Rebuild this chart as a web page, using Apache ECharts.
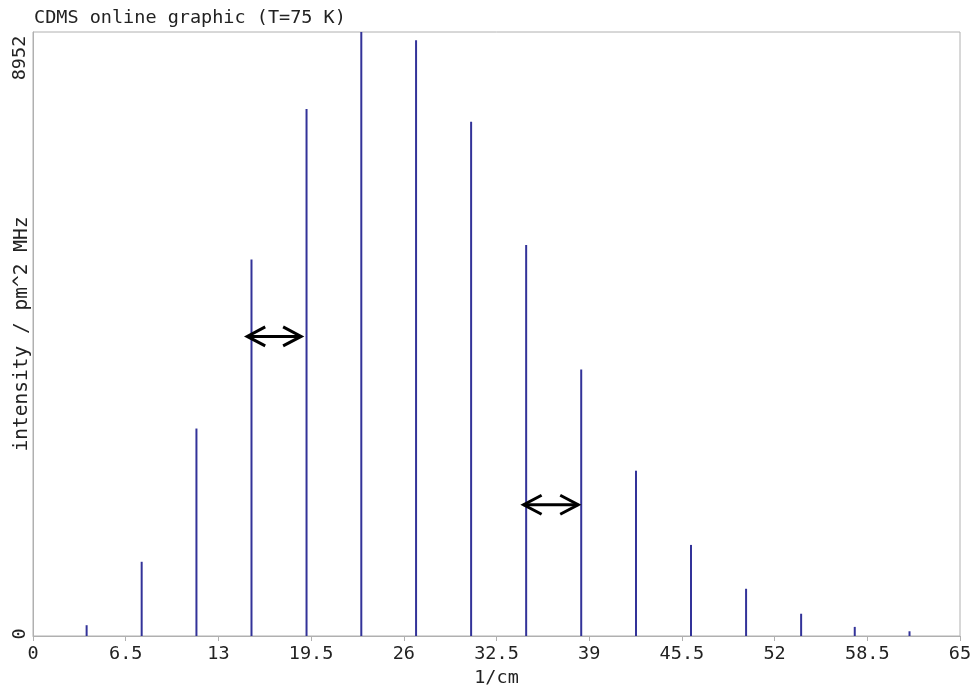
<!DOCTYPE html>
<html>
<head>
<meta charset="utf-8">
<script src="https://cdn.jsdelivr.net/npm/echarts@6/dist/echarts.min.js"></script>
<style>
html,body{margin:0;padding:0;background:#fff;}
#chart{width:972px;height:686px;}
</style>
</head>
<body>
<div id="chart"></div>
<script>
// Line positions (1/cm) and intensities (pm^2 MHz)
var positions = [3.76, 7.62, 11.46, 15.32, 19.18, 23.02, 26.86, 30.72, 34.58, 38.44, 42.28, 46.14, 50.00, 53.86, 57.62, 61.46];
var intensities = [160, 1100, 3075, 5580, 7810, 8952, 8830, 7620, 5795, 3950, 2450, 1350, 700, 330, 135, 70];
// Annotation arrows: [start, end, height]
var arrowStart = [15.02, 34.40];
var arrowEnd = [18.80, 38.23];
var arrowLevel = [4440, 1945];
var yMax = 8952;
var xTickLabels = ['0','6.5','13','19.5','26','32.5','39','45.5','52','58.5','65'];

var FONT = '"DejaVu Sans Mono", "Liberation Mono", monospace';
var FS = 18.5;
var chart = echarts.init(document.getElementById('chart'));

var barData = positions.map(function(p, i){ return [p, intensities[i]]; });
var arrowData = arrowStart.map(function(s, i){ return [s, arrowEnd[i], arrowLevel[i]]; });

chart.setOption({
  animation: false,
  backgroundColor: '#ffffff',
  title: {
    text: 'CDMS online graphic (T=75 K)',
    left: 29, top: 4,
    textStyle: {fontFamily: FONT, fontSize: FS, fontWeight: 'normal', color: '#222'}
  },
  grid: {left: 33, right: 12, top: 32, bottom: 50, show: true, borderColor: '#b0b0b0', borderWidth: 1,
         containLabel: false, outerBoundsMode: 'none'},
  xAxis: {
    type: 'value', min: 0, max: 65, interval: 6.5,
    name: '1/cm', nameLocation: 'middle', nameGap: 29,
    nameTextStyle: {fontFamily: FONT, fontSize: FS, color: '#222'},
    axisLine: {show: true, lineStyle: {color: '#b0b0b0', width: 1}},
    axisTick: {show: true, length: 5, lineStyle: {color: '#b0b0b0'}},
    splitLine: {show: false},
    axisLabel: {
      fontFamily: FONT, fontSize: FS, color: '#222', margin: 9,
      formatter: function(v){ var i = Math.round(v / 6.5); return xTickLabels[i] !== undefined ? xTickLabels[i] : ''; }
    }
  },
  yAxis: {
    type: 'value', min: 0, max: yMax, interval: yMax,
    name: 'intensity / pm^2 MHz', nameLocation: 'middle', nameGap: 1,
    nameMoveOverlap: false,
    nameTextStyle: {fontFamily: FONT, fontSize: 19.5, color: '#222'},
    axisLine: {show: true, lineStyle: {color: '#b0b0b0', width: 1}},
    axisTick: {show: false},
    splitLine: {show: false},
    axisLabel: {
      rotate: 90, margin: 3,
      formatter: function(v){ return v === 0 ? '{lo|0}' : '{hi|' + v + '}'; },
      rich: {
        lo: {fontFamily: FONT, fontSize: FS, color: '#222', padding: [0, 0, 0, 4]},
        hi: {fontFamily: FONT, fontSize: FS, color: '#222', padding: [0, 52, 0, 0]}
      }
    }
  },
  series: [
    {
      type: 'bar',
      data: barData,
      barWidth: 2,
      itemStyle: {color: '#333399'},
      silent: true
    },
    {
      type: 'custom',
      data: arrowData,
      silent: true,
      renderItem: function(params, api){
        var p1 = api.coord([api.value(0), api.value(2)]);
        var p2 = api.coord([api.value(1), api.value(2)]);
        var L = 18, H = 9.5;
        var st = {stroke: '#000', lineWidth: 3, fill: null};
        return {
          type: 'group',
          children: [
            {type: 'line', shape: {x1: p1[0], y1: p1[1], x2: p2[0], y2: p2[1]}, style: st},
            {type: 'polyline', shape: {points: [[p1[0] + L, p1[1] - H], [p1[0], p1[1]], [p1[0] + L, p1[1] + H]]}, style: st},
            {type: 'polyline', shape: {points: [[p2[0] - L, p2[1] - H], [p2[0], p2[1]], [p2[0] - L, p2[1] + H]]}, style: st}
          ]
        };
      },
      z: 10
    }
  ]
});
</script>
</body>
</html>
